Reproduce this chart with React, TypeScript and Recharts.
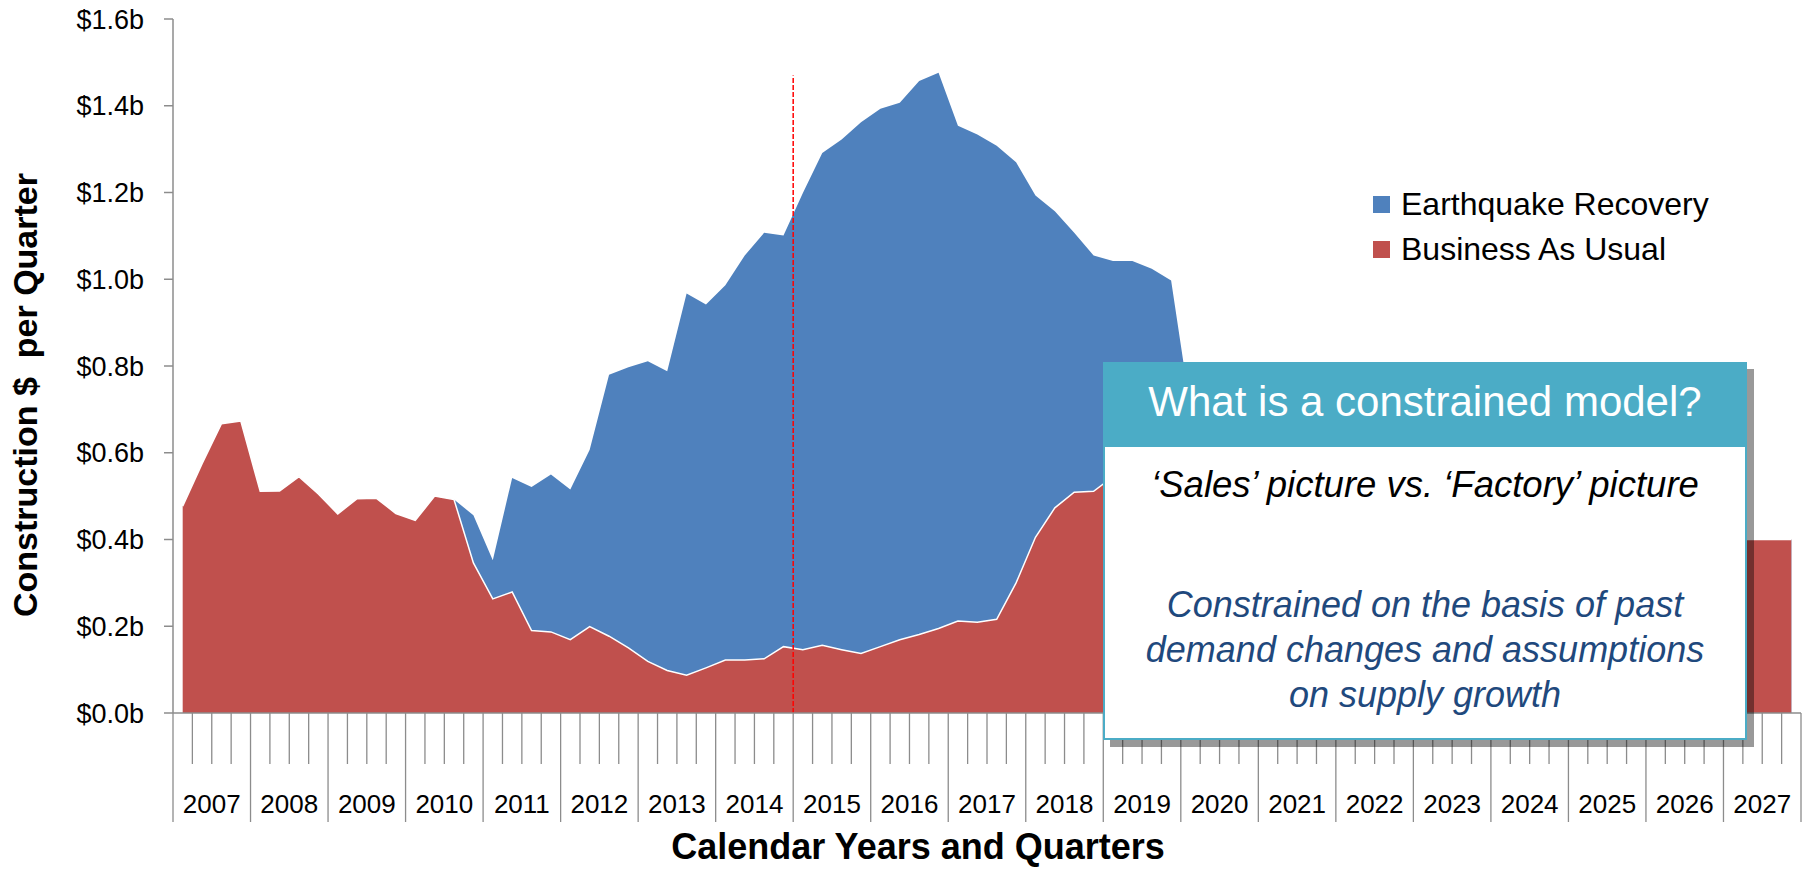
import React from 'react';
import { AreaChart, Area, XAxis, YAxis, Legend, ReferenceLine } from 'recharts';

const FONT = '"Liberation Sans", Arial, Helvetica, sans-serif';

const years = [
  '2007', '2008', '2009', '2010', '2011', '2012', '2013', '2014', '2015', '2016', '2017',
  '2018', '2019', '2020', '2021', '2022', '2023', '2024', '2025', '2026', '2027',
];
const quarterNames = ['Q1', 'Q2', 'Q3', 'Q4'];

// $b per quarter, one value per quarter 2007 Q1 .. 2027 Q4
const businessAsUsual = [
  0.477, 0.575, 0.667, 0.673, 0.511, 0.512, 0.545, 0.505,
  0.459, 0.494, 0.495, 0.46, 0.444, 0.5, 0.492, 0.346,
  0.263, 0.279, 0.19, 0.187, 0.169, 0.199, 0.177, 0.15,
  0.119, 0.098, 0.087, 0.104, 0.122, 0.122, 0.125, 0.153,
  0.146, 0.156, 0.146, 0.137, 0.153, 0.169, 0.181, 0.195,
  0.212, 0.209, 0.216, 0.3, 0.405, 0.473, 0.509, 0.511,
  0.545, 0.55, 0.56, 0.565, 0.565, 0.56, 0.55, 0.545,
  0.535, 0.52, 0.51, 0.5, 0.49, 0.475, 0.465, 0.455,
  0.445, 0.44, 0.43, 0.425, 0.42, 0.415, 0.41, 0.405,
  0.4, 0.4, 0.4, 0.4, 0.4, 0.4, 0.4, 0.4,
  0.4, 0.4, 0.4, 0.4,
];

const earthquakeRecovery = [
  null, null, null, null, null, null, null, null,
  null, null, null, null, null, null, 0.492, 0.456,
  0.352, 0.542, 0.521, 0.55, 0.515, 0.607, 0.78, 0.797,
  0.811, 0.788, 0.967, 0.942, 0.986, 1.055, 1.107, 1.101,
  1.199, 1.291, 1.322, 1.362, 1.393, 1.407, 1.457, 1.476,
  1.354, 1.334, 1.308, 1.27, 1.193, 1.157, 1.107, 1.055,
  1.042, 1.042, 1.024, 0.997, 0.7, 0.66, 0.64, 0.62,
  0.6, 0.59, 0.575, 0.56, 0.545, 0.53, 0.51, 0.49,
  0.47, 0.455, 0.44, 0.43, 0.425, 0.415, 0.41, 0.405,
  0.4, 0.4, 0.4, 0.4, 0.4, 0.4, 0.4, 0.4,
  0.4, 0.4, 0.4, 0.4,
];

const yTicks = [0, 0.2, 0.4, 0.6, 0.8, 1.0, 1.2, 1.4, 1.6];

// dashed marker between 2014 Q4 and 2015 Q1
const markerQuarter = 32;
const markerTop = 1.47;

const seriesNames: Record<string, string> = {
  eq: 'Earthquake Recovery',
  bau: 'Business As Usual',
};
const seriesColors: Record<string, string> = {
  eq: '#4F81BD',
  bau: '#C0504D',
};

const data = years.flatMap((yr, yi) =>
  quarterNames.map((q, qi) => {
    const i = yi * 4 + qi;
    return {
      quarter: `${yr} ${q}`,
      pos: i + 0.5,
      bau: businessAsUsual[i],
      eq: earthquakeRecovery[i],
    };
  })
);

const quarterBounds = Array.from({ length: years.length * 4 + 1 }, (_, i) => i);

const AXIS_GREY = '#8c8c8c';

const QuarterTick = (props: any) => {
  const { x, y, payload } = props;
  const v = payload.value as number;
  const yearLine = v % 4 === 0;
  return (
    <g>
      <line x1={x} y1={y} x2={x} y2={y + (yearLine ? 109 : 51)} stroke={AXIS_GREY} strokeWidth={1.3} />
      {v % 4 === 2 && (
        <text x={x} y={y + 100} textAnchor="middle" fontSize={26} fontFamily={FONT} fill="#000">
          {years[(v - 2) / 4]}
        </text>
      )}
    </g>
  );
};

const renderLegend = (props: any) => {
  const items = [...(props.payload || [])].sort(
    (a: any, b: any) => (a.dataKey === 'eq' ? -1 : 1) - (b.dataKey === 'eq' ? -1 : 1)
  );
  return (
    <div style={{ fontFamily: FONT }}>
      {items.map((entry: any) => (
        <div key={entry.dataKey} style={{ display: 'flex', alignItems: 'center', height: 45 }}>
          <span
            style={{
              display: 'inline-block',
              width: 17,
              height: 17,
              background: seriesColors[entry.dataKey],
              marginRight: 11,
            }}
          />
          <span style={{ fontSize: 32, color: '#000', whiteSpace: 'nowrap' }}>
            {seriesNames[entry.dataKey]}
          </span>
        </div>
      ))}
    </div>
  );
};

const YTitle = () => (
  <text
    x={37}
    y={395}
    transform="rotate(-90, 37, 395)"
    textAnchor="middle"
    fontSize={34}
    fontWeight="bold"
    fontFamily={FONT}
    fill="#000"
  >
    {'Construction $\u00A0 per Quarter'}
  </text>
);

const XTitle = () => (
  <text x={918} y={859} textAnchor="middle" fontSize={36} fontWeight="bold" fontFamily={FONT} fill="#000">
    Calendar Years and Quarters
  </text>
);

const NoteBox = () => (
  <svg
    width={1802}
    height={869}
    style={{ position: 'absolute', left: 0, top: 0, pointerEvents: 'none' }}
  >
    <rect x={1110} y={369} width={644} height={378} fill="#000" fillOpacity={0.4} />
    <rect x={1104} y={363} width={642} height={376} fill="#fff" stroke="#4BACC6" strokeWidth={2} />
    <rect x={1103} y={362} width={644} height={85} fill="#4BACC6" />
    <g fontFamily={FONT} textAnchor="middle">
      <text x={1425} y={416} fontSize={42} fill="#fff">
        What is a constrained model?
      </text>
      <text x={1425} y={497} fontSize={36.5} fontStyle="italic" fill="#000">
        ‘Sales’ picture vs. ‘Factory’ picture
      </text>
      <text x={1425} y={617} fontSize={36} fontStyle="italic" fill="#1F497D">
        Constrained on the basis of past
      </text>
      <text x={1425} y={662} fontSize={36} fontStyle="italic" fill="#1F497D">
        demand changes and assumptions
      </text>
      <text x={1425} y={707} fontSize={36} fontStyle="italic" fill="#1F497D">
        on supply growth
      </text>
    </g>
  </svg>
);

export default function App() {
  return (
    <div
      style={{
        position: 'absolute',
        left: 0,
        top: 0,
        width: 1802,
        height: 869,
        background: '#fff',
        overflow: 'hidden',
        fontFamily: FONT,
      }}
    >
      <AreaChart width={1802} height={869} data={data} margin={{ top: 19, right: 1, bottom: 0, left: 0 }}>
        <XAxis
          type="number"
          dataKey="pos"
          domain={[0, years.length * 4]}
          ticks={quarterBounds}
          interval={0}
          tick={(p: any) => <QuarterTick {...p} />}
          tickLine={false}
          tickSize={0}
          tickMargin={0}
          height={156}
          axisLine={{ stroke: AXIS_GREY, strokeWidth: 1.5 }}
          label={() => <XTitle />}
        />
        <YAxis
          domain={[0, 1.6]}
          ticks={yTicks}
          interval={0}
          width={173}
          tickFormatter={(v: number) => `$${v.toFixed(1)}b`}
          tick={{ fill: '#000', fontSize: 27, fontFamily: FONT }}
          tickSize={9}
          tickMargin={20}
          axisLine={{ stroke: AXIS_GREY, strokeWidth: 1.5 }}
          tickLine={{ stroke: AXIS_GREY, strokeWidth: 1.5 }}
          label={() => <YTitle />}
        />
        <Legend
          layout="vertical"
          verticalAlign="middle"
          align="center"
          content={renderLegend}
          wrapperStyle={{ left: 1373, top: 182, width: 420 }}
        />
        <Area
          type="linear"
          dataKey="eq"
          name={seriesNames.eq}
          fill={seriesColors.eq}
          fillOpacity={1}
          stroke="none"
          dot={false}
          activeDot={false}
          isAnimationActive={false}
        />
        <Area
          type="linear"
          dataKey="bau"
          name={seriesNames.bau}
          fill={seriesColors.bau}
          fillOpacity={1}
          stroke="#ffffff"
          strokeWidth={1.5}
          dot={false}
          activeDot={false}
          isAnimationActive={false}
        />
        <ReferenceLine
          segment={[
            { x: markerQuarter, y: 0 },
            { x: markerQuarter, y: markerTop },
          ]}
          stroke="#ff0000"
          strokeWidth={1.5}
          strokeDasharray="5 2"
        />
      </AreaChart>
      <NoteBox />
    </div>
  );
}
